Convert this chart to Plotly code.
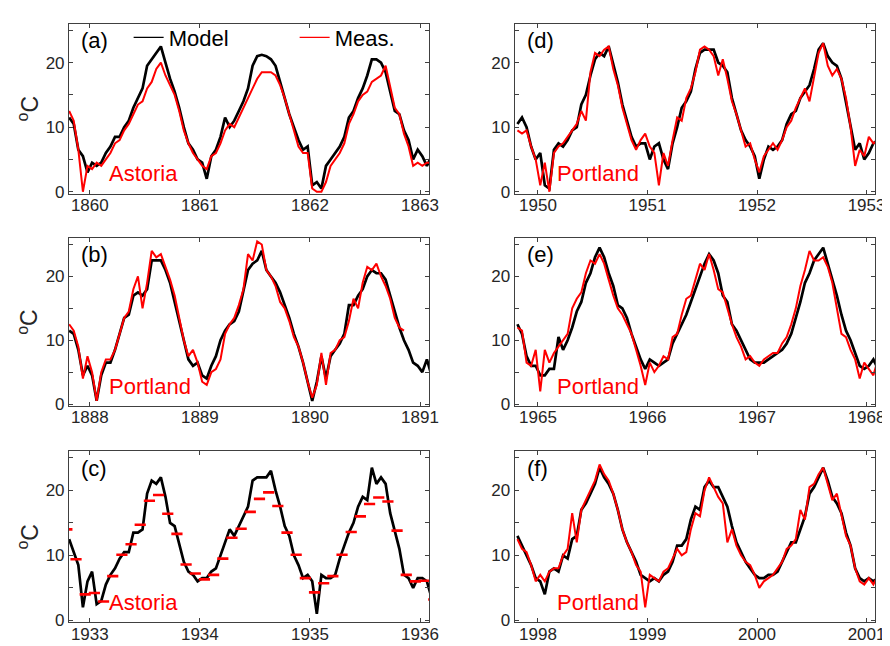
import plotly.graph_objects as go

# ---------------- data (semi-monthly samples) ----------------
# sample k is at time  start_year - 0.1875 + k/24   (k = 0..79)
START_A, START_B, START_C = 1860, 1888, 1933
START_D, START_E, START_F = 1950, 1965, 1998

model_a = [11.5, 10.5, 6.5, 5.5, 3.0, 4.5, 4.0, 4.5, 6.0, 7.0, 8.5, 8.5, 10.0, 11.0, 13.0, 14.5, 16.0, 19.5, 20.5, 21.5,
           22.5, 20.0, 17.5, 15.5, 13.0, 10.0, 7.5, 6.5, 5.0, 4.5, 2.0, 5.5, 6.5, 8.5, 11.5, 10.0, 11.0, 12.5, 14.0, 16.0,
           19.5, 21.0, 21.2, 21.0, 20.5, 19.5, 17.0, 14.5, 12.0, 10.0, 8.0, 6.5, 7.0, 1.0, 1.5, 0.5, 4.0, 5.0, 6.0, 7.0,
           8.5, 11.5, 12.5, 14.5, 16.0, 18.0, 20.5, 20.5, 20.0, 18.5, 15.5, 12.5, 12.0, 9.5, 8.0, 5.0, 6.5, 5.5, 4.0, 5.5]
meas_a = [12.5, 11.0, 6.5, 0.0, 4.0, 3.5, 4.5, 4.0, 5.0, 6.0, 7.5, 8.0, 9.5, 10.5, 12.0, 13.5, 14.0, 16.0, 17.0, 19.0,
          20.0, 18.0, 16.5, 15.0, 12.5, 9.5, 7.5, 6.0, 5.0, 4.0, 3.5, 5.5, 6.0, 7.5, 9.5, 10.5, 10.0, 11.5, 13.0, 14.5,
          16.0, 17.5, 18.5, 18.5, 18.5, 18.0, 16.5, 14.5, 12.0, 9.5, 7.0, 6.0, 6.0, 0.5, 0.0, 0.0, 1.5, 4.0, 5.0, 6.0,
          7.5, 10.5, 12.0, 14.0, 15.0, 15.5, 17.0, 17.5, 18.0, 19.5, 16.0, 13.0, 12.0, 9.0, 7.0, 4.0, 4.5, 4.0, 4.5, 4.5]

model_b = [11.5, 11.0, 8.5, 4.5, 6.0, 4.5, 0.5, 4.5, 6.5, 6.5, 8.5, 11.0, 13.5, 14.0, 17.0, 17.5, 17.0, 18.0, 22.5, 22.5,
           22.5, 21.0, 19.0, 16.0, 13.0, 10.0, 7.0, 6.0, 6.5, 4.5, 4.0, 6.0, 7.5, 10.0, 11.5, 12.5, 13.0, 14.5, 18.0, 21.0,
           22.0, 22.5, 24.0, 21.0, 20.0, 19.0, 17.5, 15.5, 13.5, 11.0, 9.0, 6.5, 3.5, 0.5, 3.5, 7.5, 4.0, 7.5, 8.5, 9.5,
           11.0, 15.5, 15.5, 17.0, 18.0, 20.0, 21.0, 20.5, 20.5, 19.5, 17.0, 14.5, 12.0, 10.0, 8.5, 6.5, 6.0, 5.0, 7.0, 4.5]
meas_b = [12.5, 11.5, 9.0, 4.0, 7.5, 5.0, 0.5, 5.0, 7.0, 7.0, 8.5, 11.0, 13.5, 14.5, 18.0, 20.0, 15.0, 19.0, 24.0, 23.0,
          23.5, 21.5, 19.5, 17.0, 13.5, 10.0, 7.5, 8.5, 6.5, 3.5, 3.0, 5.0, 5.5, 7.0, 11.0, 12.5, 13.5, 15.5, 18.0, 23.5,
          22.5, 25.5, 25.0, 21.0, 20.0, 18.5, 16.0, 15.0, 13.0, 10.5, 9.0, 6.5, 3.5, 1.0, 3.0, 8.0, 3.0, 8.0, 8.5, 10.0,
          10.5, 13.0, 16.5, 15.0, 19.0, 21.5, 21.0, 22.0, 20.0, 18.5, 16.5, 13.5, 12.0, 11.5, None, None, None, None, None, None]

model_c = [12.5, 10.5, 8.5, 2.0, 6.0, 7.5, 2.5, 3.0, 5.5, 7.0, 8.0, 9.5, 10.5, 10.5, 13.5, 13.5, 14.0, 19.5, 21.5, 21.0,
           22.0, 19.0, 15.0, 14.5, 11.5, 9.0, 7.5, 7.0, 6.0, 6.5, 6.5, 7.5, 8.0, 10.0, 12.0, 14.0, 13.0, 14.5, 16.0, 17.5,
           21.5, 22.0, 22.0, 22.0, 23.0, 20.0, 17.5, 14.5, 13.0, 10.0, 8.5, 6.5, 7.0, 6.0, 1.0, 7.0, 6.5, 6.5, 7.0, 9.5,
           11.5, 13.5, 15.0, 17.5, 19.0, 18.5, 23.5, 21.0, 22.0, 21.0, 16.5, 13.5, 11.0, 7.0, 6.5, 5.0, 6.5, 6.5, 6.0, 3.5]
# monthly means at Astoria, Oct 1932 .. Feb 1936
monthly_c_first_month = (1932, 10)
monthly_c = [14.0, 9.4, 4.0, 4.2, 2.9, 6.8, 10.1, 11.7, 14.7, 18.4, 19.3, 16.4, 13.3, 8.6, 7.2, 6.3, 7.0, 9.5, 12.7, 14.1,
             16.7, 18.7, 19.7, 17.6, 13.5, 10.1, 6.5, 4.3, 5.7, 6.8, 10.1, 13.6, 16.0, 17.9, 18.9, 18.3, 13.8, 7.0, 6.0, 6.1,
             3.2]

model_d = [10.5, 11.5, 10.0, 7.0, 5.0, 6.0, 1.0, 0.5, 6.5, 7.5, 7.0, 8.0, 9.5, 10.0, 13.5, 15.0, 18.0, 20.5, 21.5, 21.0,
           22.5, 19.5, 17.0, 13.5, 11.0, 8.5, 7.0, 7.5, 7.5, 5.0, 7.0, 7.5, 5.0, 3.5, 7.5, 10.0, 13.0, 14.0, 15.5, 19.0,
           21.5, 22.0, 22.0, 22.0, 20.0, 19.5, 18.5, 14.5, 12.0, 9.5, 8.0, 7.0, 5.5, 2.0, 5.0, 7.0, 6.5, 7.0, 8.0, 10.5,
           12.0, 12.5, 14.5, 15.5, 16.5, 19.0, 22.0, 23.0, 21.0, 20.0, 19.5, 17.5, 14.0, 10.5, 6.5, 7.5, 5.0, 6.0, 7.5, 8.0]
meas_d = [9.5, 9.0, 9.5, 7.0, 5.0, 1.0, 4.5, 0.0, 6.0, 7.0, 7.5, 8.5, 9.5, 10.5, 12.5, 11.0, 18.5, 21.5, 21.0, 22.0,
          22.5, 19.0, 16.5, 13.0, 10.5, 8.0, 6.5, 8.0, 9.0, 7.0, 6.0, 1.0, 6.0, 4.0, 8.0, 11.5, 11.0, 14.5, 16.0, 18.5,
          22.0, 22.5, 22.0, 21.0, 18.0, 20.5, 17.5, 14.0, 12.0, 9.5, 7.0, 7.5, 5.0, 3.0, 5.5, 6.5, 7.5, 6.5, 8.0, 10.0,
          11.0, 13.0, 14.5, 16.0, 14.0, 17.5, 21.5, 23.0, 19.5, 18.0, 19.0, 17.5, 14.5, 10.0, 4.0, 6.5, 5.5, 8.5, 7.5, 8.0]

model_e = [12.5, 11.0, 7.5, 6.0, 6.0, 4.5, 4.5, 5.5, 5.5, 10.5, 8.5, 10.0, 12.0, 14.5, 16.0, 19.0, 20.5, 23.0, 24.5, 23.0,
           20.5, 18.5, 15.5, 15.0, 13.5, 11.0, 9.0, 7.0, 5.5, 7.0, 6.5, 6.0, 6.5, 7.0, 9.5, 11.0, 12.5, 14.0, 16.0, 18.0,
           20.0, 22.0, 23.5, 22.5, 20.5, 17.0, 16.0, 12.5, 11.5, 10.0, 8.5, 7.0, 6.5, 6.5, 6.5, 7.0, 7.5, 8.0, 8.5, 9.5,
           11.0, 13.5, 16.0, 19.0, 20.5, 22.5, 23.5, 24.5, 22.0, 19.5, 17.0, 14.0, 11.5, 10.0, 8.0, 6.0, 5.5, 6.0, 7.0, 5.5]
meas_e = [12.0, 11.5, 6.5, 6.0, 8.5, 2.0, 8.5, 6.5, 8.0, 9.0, 10.0, 11.0, 15.0, 16.5, 17.5, 20.5, 22.5, 22.0, 23.5, 22.0,
          19.5, 17.0, 15.0, 14.0, 12.5, 11.0, 8.5, 6.0, 3.0, 6.5, 5.0, 6.0, 7.5, 7.0, 10.5, 11.0, 14.0, 16.5, 17.0, 19.5,
          22.0, 21.0, 23.5, 21.0, 18.0, 17.5, 15.0, 12.5, 10.5, 9.0, 7.0, 7.5, 6.5, 6.0, 7.0, 7.5, 8.0, 8.0, 9.5, 10.5,
          12.5, 15.0, 18.5, 21.0, 24.0, 22.5, 22.5, 23.0, 21.5, 19.0, 15.0, 11.0, 10.5, 8.5, 7.0, 4.0, 6.5, 5.5, 4.5, 7.0]

model_f = [13.0, 11.5, 10.0, 8.5, 6.5, 6.0, 4.0, 7.5, 8.0, 7.5, 10.0, 9.5, 12.5, 13.0, 17.0, 18.0, 19.5, 21.0, 23.5, 22.0,
           21.0, 19.5, 17.0, 14.0, 12.0, 10.5, 9.0, 7.0, 6.5, 6.0, 6.5, 6.0, 7.0, 7.5, 9.0, 11.5, 11.5, 12.5, 15.5, 17.5,
           17.0, 20.5, 21.5, 20.5, 20.5, 19.0, 17.5, 14.5, 12.0, 10.5, 9.0, 8.0, 7.0, 6.5, 6.5, 7.0, 7.0, 7.5, 9.0, 10.5,
           12.0, 12.0, 14.0, 16.0, 19.5, 20.5, 22.0, 23.5, 21.5, 19.0, 18.0, 16.5, 13.5, 11.5, 8.0, 6.5, 6.0, 6.5, 6.0, 6.5]
meas_f = [12.5, 11.0, 10.5, 8.5, 6.0, 7.0, 6.0, 7.5, 8.0, 8.0, 10.0, 11.0, 16.5, 12.0, 17.0, 18.5, 20.0, 21.5, 24.0, 22.5,
          21.5, 19.5, 17.0, 14.0, 12.0, 10.5, 8.5, 7.5, 2.0, 7.0, 6.5, 6.0, 7.5, 8.0, 9.5, 11.0, 10.0, 10.5, 14.0, 16.5,
          16.0, 20.0, 22.0, 20.5, 19.0, 18.0, 12.0, 14.0, 11.5, 10.0, 9.0, 8.5, 7.0, 5.0, 6.0, 6.5, 7.0, 8.0, 9.0, 11.0,
          11.5, 12.5, 17.0, 15.5, 20.5, 21.0, 22.5, 23.5, 21.0, 18.5, 19.5, 16.0, 13.0, 11.5, 8.0, 6.0, 5.5, 6.5, 5.5, 7.0]

PANEL_TAGS = ["(a)", "(b)", "(c)", "(d)", "(e)", "(f)"]
STATIONS = ["Astoria", "Portland", "Astoria", "Portland", "Portland", "Portland"]
LEGEND_NAMES = ["Model", "Meas."]
Y_TICKS = [0, 10, 20]


def times(start_year, n):
    return [start_year - 0.1875 + k / 24 for k in range(n)]


# ---------------- figure ----------------
FONT = "Liberation Sans, Arial, sans-serif"
BLACK = "#000000"
RED = "#ff0000"
AXC = "#404040"

panels = [
    # tag idx, start, model, meas, col, row
    (0, START_A, model_a, meas_a, 0, 0),
    (1, START_B, model_b, meas_b, 0, 1),
    (2, START_C, model_c, None, 0, 2),
    (3, START_D, model_d, meas_d, 1, 0),
    (4, START_E, model_e, meas_e, 1, 1),
    (5, START_F, model_f, meas_f, 1, 2),
]

XDOM = [[0.0693, 0.4787], [0.5756, 0.9857]]
YDOM = [[0.7090, 0.9752], [0.3762, 0.6393], [0.0372, 0.3050]]
XPAD = [(0.189, 0.084), (0.214, 0.081)]

fig = go.Figure()
annotations = []

for i, (ti, y0, mod, mea, col, row) in enumerate(panels):
    ax = "" if i == 0 else str(i + 1)
    xa, ya = "x" + ax, "y" + ax
    t = times(y0, len(mod))
    fig.add_trace(go.Scatter(x=t, y=mod, mode="lines", line=dict(color=BLACK, width=2.7),
                             xaxis=xa, yaxis=ya, showlegend=False, hoverinfo="skip"))
    if mea is not None:
        fig.add_trace(go.Scatter(x=times(y0, len(mea)), y=mea, mode="lines",
                                 line=dict(color=RED, width=2.0), connectgaps=False,
                                 xaxis=xa, yaxis=ya, showlegend=False, hoverinfo="skip"))
    else:
        fy, fm = monthly_c_first_month
        tm = [fy + (fm - 1 + j + 0.5) / 12 for j in range(len(monthly_c))]
        fig.add_trace(go.Scatter(x=tm, y=monthly_c, mode="markers",
                                 marker=dict(symbol="line-ew", size=8, color=RED,
                                             line=dict(color=RED, width=2.6)),
                                 xaxis=xa, yaxis=ya, showlegend=False, hoverinfo="skip"))

    axis_common = dict(showline=True, linecolor=AXC, linewidth=1, mirror="ticks", ticks="inside",
                       ticklen=4, tickwidth=1, tickcolor=AXC, showgrid=False, zeroline=False,
                       tickfont=dict(family=FONT, size=17, color="#262626"))
    lp, rp = XPAD[col]
    fig.layout["xaxis" + ax] = dict(domain=XDOM[col], anchor=ya, range=[y0 - lp, y0 + 3 + rp],
                                    tickvals=[y0 + j for j in range(4)],
                                    ticktext=[str(y0 + j) for j in range(4)],
                                    ticklabelstandoff=-4, **axis_common)
    fig.layout["yaxis" + ax] = dict(domain=YDOM[row], anchor=xa, range=[-0.3, 26.0],
                                    tickvals=Y_TICKS,
                                    minor=dict(tick0=0, dtick=5, ticks="inside", ticklen=4,
                                               tickwidth=1, tickcolor=AXC, showgrid=False),
                                    **axis_common)

    annotations.append(dict(text=PANEL_TAGS[ti], xref=xa + " domain", yref=ya + " domain",
                            x=0.028, y=0.90, xanchor="left", yanchor="middle", showarrow=False,
                            font=dict(family=FONT, size=22, color="#000000")))
    annotations.append(dict(text=STATIONS[ti], xref=xa + " domain", yref=ya + " domain",
                            x=0.105 if col == 0 else 0.112, y=0.117, xanchor="left", yanchor="middle",
                            showarrow=False, font=dict(family=FONT, size=22, color=RED)))
    if col == 0:
        annotations.append(dict(text="<sup>o</sup>C", xref="paper", yref="paper", x=20 / 890,
                                y=sum(YDOM[row]) / 2, xanchor="center", yanchor="middle",
                                textangle=-90, showarrow=False,
                                font=dict(family=FONT, size=23, color="#262626")))

# legend entries
fig.add_trace(go.Scatter(x=[None], y=[None], mode="lines", line=dict(color=BLACK, width=1.2),
                         name=LEGEND_NAMES[0], showlegend=True))
fig.add_trace(go.Scatter(x=[None], y=[None], mode="lines", line=dict(color=RED, width=1.2),
                         name=LEGEND_NAMES[1], showlegend=True))

fig.update_layout(
    width=890, height=646,
    margin=dict(l=0, r=0, t=0, b=0),
    paper_bgcolor="white", plot_bgcolor="white",
    annotations=annotations,
    legend=dict(orientation="h", x=122 / 890, y=1 - 30 / 646, xanchor="left", yanchor="middle",
                xref="paper", yref="paper", bgcolor="rgba(0,0,0,0)",
                font=dict(family=FONT, size=22, color="#000000"),
                itemwidth=30, entrywidth=121, entrywidthmode="pixels", tracegroupgap=0),
)

fig.write_html("out.html")
